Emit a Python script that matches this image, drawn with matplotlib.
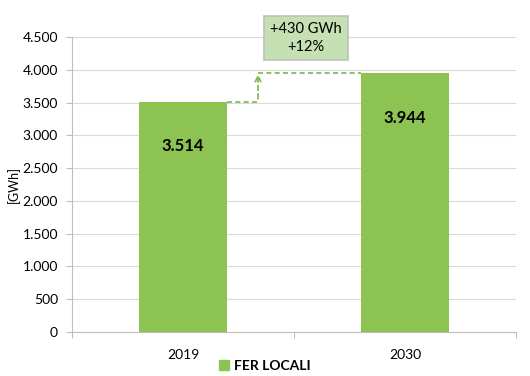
import matplotlib
matplotlib.use("Agg")
import matplotlib.pyplot as plt
from matplotlib.patches import Patch

plt.rcParams['font.family'] = ['Lato', 'DejaVu Sans']

categories = ["2019", "2030"]
values = [3514, 3944]
value_labels = ["3.514", "3.944"]
yticks = [0, 500, 1000, 1500, 2000, 2500, 3000, 3500, 4000, 4500]
ytick_labels = ["0", "500", "1.000", "1.500", "2.000", "2.500", "3.000", "3.500", "4.000", "4.500"]
series_name = "FER LOCALI"
delta_text = "+430 GWh\n+12%"

green = "#8DC352"
fig = plt.figure(figsize=(5.30, 3.76), dpi=100)
ax = fig.add_axes([72/530, 1-332/376, (516-72)/530, (332-37)/376])

x = list(range(len(categories)))
bars = ax.bar(x, values, width=0.4, color=green, zorder=3)
ax.set_xlim(-0.5, 1.5)
ax.set_ylim(0, 4500)
ax.set_yticks(yticks)
ax.set_yticklabels(ytick_labels, fontsize=10)
ax.set_xticks([-0.5, 0.5, 1.5], minor=False)
ax.set_xticklabels([])
ax.set_xticks(x, minor=True)
ax.set_xticklabels(categories, minor=True, fontsize=10)
ax.tick_params(axis='x', which='minor', length=0, pad=12)
ax.tick_params(axis='x', which='major', length=4, color="#bfbfbf")
ax.tick_params(axis='y', length=4, color="#bfbfbf", pad=6)
ax.grid(axis='y', color="#d9d9d9", linewidth=0.8, zorder=0)
for s in ['top', 'right']:
    ax.spines[s].set_visible(False)
for s in ['left', 'bottom']:
    ax.spines[s].set_color("#bfbfbf")
ax.set_ylabel("[GWh]", fontsize=9, labelpad=2)

for xi, v, lab in zip(x, values, value_labels):
    ax.annotate(lab, (xi, v), xytext=(0, -32), textcoords="offset points",
                ha='center', va='center', fontsize=12, fontweight='bold', zorder=5)

# dashed step arrow
xm = 0.338
dash_col = "#7ab648"
ax.plot([0.2, xm], [values[0], values[0]], ls=(0, (3, 2)), color=dash_col, lw=1.2, zorder=4)
ax.annotate("", xy=(xm, values[1] + 30), xytext=(xm, values[0]),
            arrowprops=dict(arrowstyle="->", ls=(0, (3, 2)), color=dash_col, lw=1.2), zorder=4)
ax.plot([xm, 0.8], [values[1], values[1]], ls=(0, (3, 2)), color=dash_col, lw=1.2, zorder=4)

fig.text(306/530, 1-38/376, delta_text, ha='center', va='center', fontsize=10.5,
         linespacing=1.3,
         bbox=dict(boxstyle="square,pad=0.45", facecolor="#c5e0b3", edgecolor="#bfbfbf", lw=1.2))

leg = fig.legend(handles=[Patch(color=green, label=series_name)], loc='center',
                 bbox_to_anchor=(0.5, 1-366/376), frameon=False, handlelength=0.7,
                 handleheight=0.7, handletextpad=0.4, prop={'weight': 'bold', 'size': 10})

fig.savefig("out.png", dpi=100)
